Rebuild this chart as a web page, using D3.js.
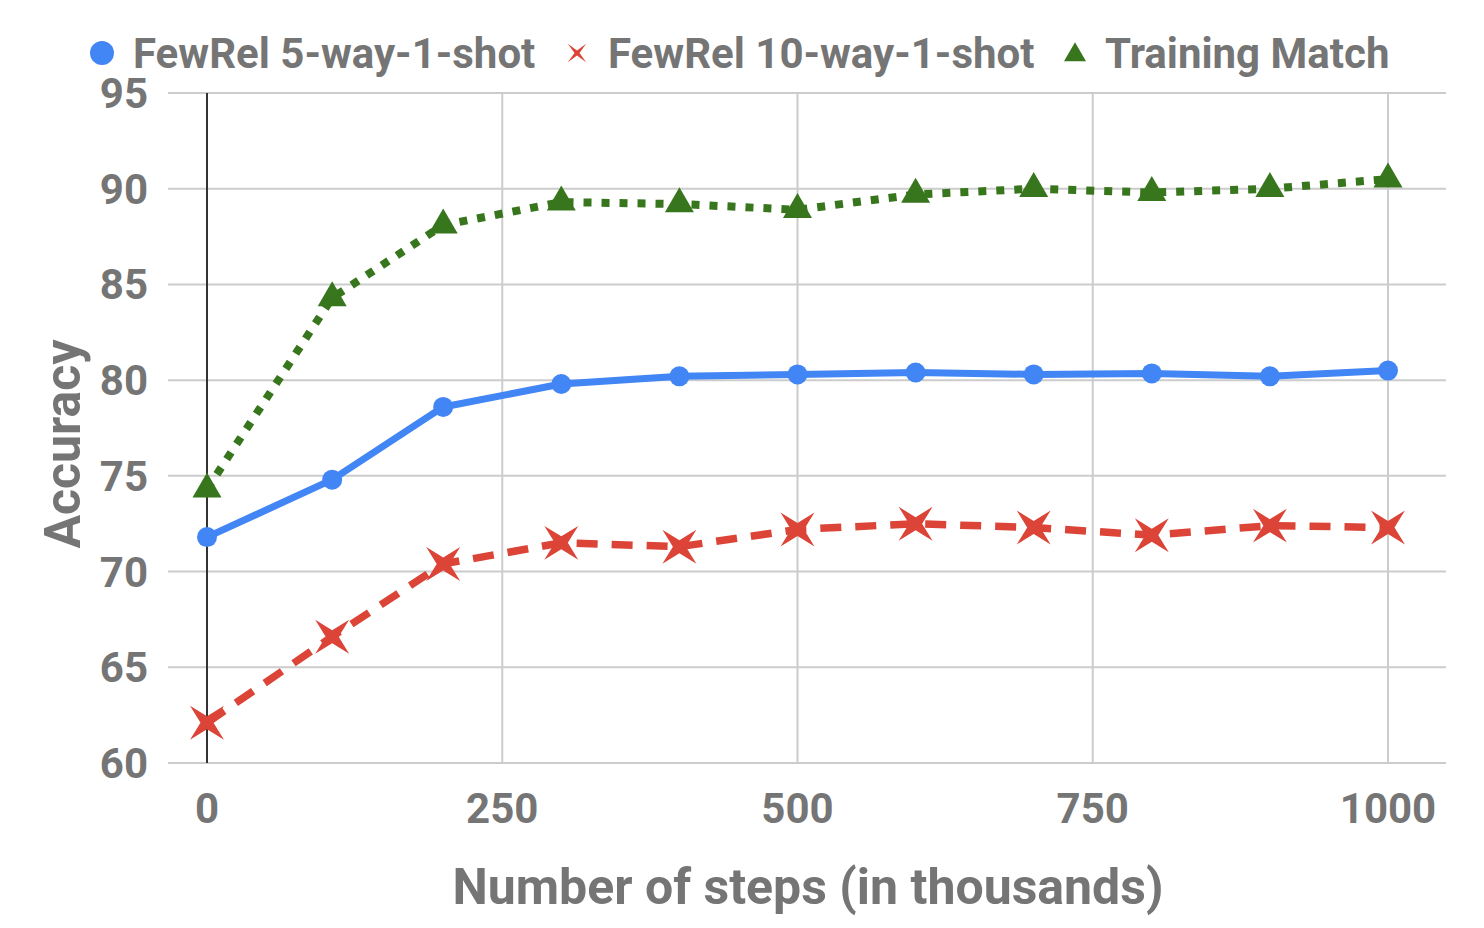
<!DOCTYPE html>
<html>
<head>
<meta charset="utf-8">
<script src="https://cdn.jsdelivr.net/npm/d3@7"></script>
<style>
  body { margin: 0; background: #fff; }
  text { font-family: Roboto, "Noto Sans", sans-serif; font-weight: bold; fill: #757575; }
</style>
</head>
<body>
<svg id="chart" width="1484" height="928"></svg>
<script>
// steps (in thousands) and accuracy of each run
var steps = [0, 106, 200, 300, 400, 500, 600, 700, 800, 900, 1000];
var fiveWay = [71.8, 74.8, 78.6, 79.8, 80.2, 80.3, 80.4, 80.3, 80.35, 80.2, 80.5];
var tenWay = [62.1, 66.6, 70.4, 71.5, 71.3, 72.2, 72.5, 72.3, 71.9, 72.4, 72.3];
var trainMatch = [74.3, 84.3, 88.1, 89.3, 89.2, 88.9, 89.7, 90.0, 89.8, 90.0, 90.5];

var xTicks = [0, 250, 500, 750, 1000];
var yTicks = [60, 65, 70, 75, 80, 85, 90, 95];
var seriesNames = ["FewRel 5-way-1-shot", "FewRel 10-way-1-shot", "Training Match"];

var svg = d3.select("#chart");

var x = d3.scaleLinear().domain([0, 1000]).range([207, 1388]);
var y = d3.scaleLinear().domain([60, 95]).range([763, 93]);
var plotLeft = 168, plotRight = 1446;

// gridlines
svg.selectAll(".hgrid")
  .data(yTicks)
  .enter()
  .append("line")
  .attr("x1", plotLeft)
  .attr("x2", plotRight)
  .attr("y1", function(d){ return y(d); })
  .attr("y2", function(d){ return y(d); })
  .style("stroke", "#cccccc")
  .style("stroke-width", 2);

svg.selectAll(".vgrid")
  .data(xTicks.slice(1))
  .enter()
  .append("line")
  .attr("x1", function(d){ return x(d); })
  .attr("x2", function(d){ return x(d); })
  .attr("y1", y(95))
  .attr("y2", y(60))
  .style("stroke", "#cccccc")
  .style("stroke-width", 2);

// zero line
svg.append("line")
  .attr("x1", x(0)).attr("x2", x(0))
  .attr("y1", y(95)).attr("y2", y(60))
  .style("stroke", "#333333")
  .style("stroke-width", 2);

// tick labels
svg.selectAll(".ylab")
  .data(yTicks)
  .enter()
  .append("text")
  .attr("x", 148)
  .attr("y", function(d){ return y(d) + 15; })
  .attr("text-anchor", "end")
  .style("font-size", "42px")
  .text(function(d){ return d; });

svg.selectAll(".xlab")
  .data(xTicks)
  .enter()
  .append("text")
  .attr("x", function(d){ return x(d); })
  .attr("y", 823)
  .attr("text-anchor", "middle")
  .style("font-size", "42px")
  .text(function(d){ return d; });

// axis titles
svg.append("text")
  .attr("x", 808)
  .attr("y", 904)
  .attr("text-anchor", "middle")
  .style("font-size", "50px")
  .text("Number of steps (in thousands)");

svg.append("text")
  .attr("transform", "translate(80,444) rotate(-90)")
  .attr("text-anchor", "middle")
  .style("font-size", "50px")
  .text("Accuracy");

// series
function pts(vals){
  return steps.map(function(s, i){ return [s, vals[i]]; });
}
var line = d3.line()
  .x(function(d){ return x(d[0]); })
  .y(function(d){ return y(d[1]); });

var starPath = function(R, r){
  var p = [];
  for (var i = 0; i < 8; i++) {
    var a = Math.PI / 4 + i * Math.PI / 4;
    var rad = (i % 2 == 0) ? R : r;
    p.push([rad * Math.cos(a), rad * Math.sin(a)]);
  }
  return "M" + p.join("L") + "Z";
};
var triPath = function(w, h){
  // centroid at origin
  return "M0," + (-2 * h / 3) + "L" + (w / 2) + "," + (h / 3) + "L" + (-w / 2) + "," + (h / 3) + "Z";
};

// blue
svg.append("path")
  .attr("d", line(pts(fiveWay)))
  .style("fill", "none")
  .style("stroke", "#4285f4")
  .style("stroke-width", 7)
  .style("stroke-linejoin", "round");
svg.selectAll(".c5")
  .data(pts(fiveWay))
  .enter()
  .append("circle")
  .attr("cx", function(d){ return x(d[0]); })
  .attr("cy", function(d){ return y(d[1]); })
  .attr("r", 10)
  .style("fill", "#4285f4");

// red
svg.append("path")
  .attr("d", line(pts(tenWay)))
  .style("fill", "none")
  .style("stroke", "#db4437")
  .style("stroke-width", 7.5)
  .style("stroke-dasharray", "21,14");
svg.selectAll(".c10")
  .data(pts(tenWay))
  .enter()
  .append("path")
  .attr("transform", function(d){ return "translate(" + x(d[0]) + "," + y(d[1]) + ")"; })
  .attr("d", starPath(24, 6.5))
  .style("fill", "#db4437");

// green
svg.append("path")
  .attr("d", line(pts(trainMatch)))
  .style("fill", "none")
  .style("stroke", "#38761d")
  .style("stroke-width", 8)
  .style("stroke-dasharray", "8,10");
svg.selectAll(".tm")
  .data(pts(trainMatch))
  .enter()
  .append("path")
  .attr("transform", function(d){ return "translate(" + x(d[0]) + "," + y(d[1]) + ")"; })
  .attr("d", triPath(29, 25))
  .style("fill", "#38761d");

// legend
var legend = svg.append("g");
legend.append("circle").attr("cx", 102).attr("cy", 53).attr("r", 12).style("fill", "#4285f4");
legend.append("text").attr("x", 133).attr("y", 68).style("font-size", "42px").text(seriesNames[0]);
legend.append("path").attr("transform", "translate(577,53)").attr("d", starPath(13, 2.5)).style("fill", "#db4437");
legend.append("text").attr("x", 608).attr("y", 68).style("font-size", "42px").text(seriesNames[1]);
legend.append("path").attr("transform", "translate(1075,55)").attr("d", triPath(22, 19)).style("fill", "#38761d");
legend.append("text").attr("x", 1105).attr("y", 68).style("font-size", "42px").text(seriesNames[2]);
</script>
</body>
</html>
